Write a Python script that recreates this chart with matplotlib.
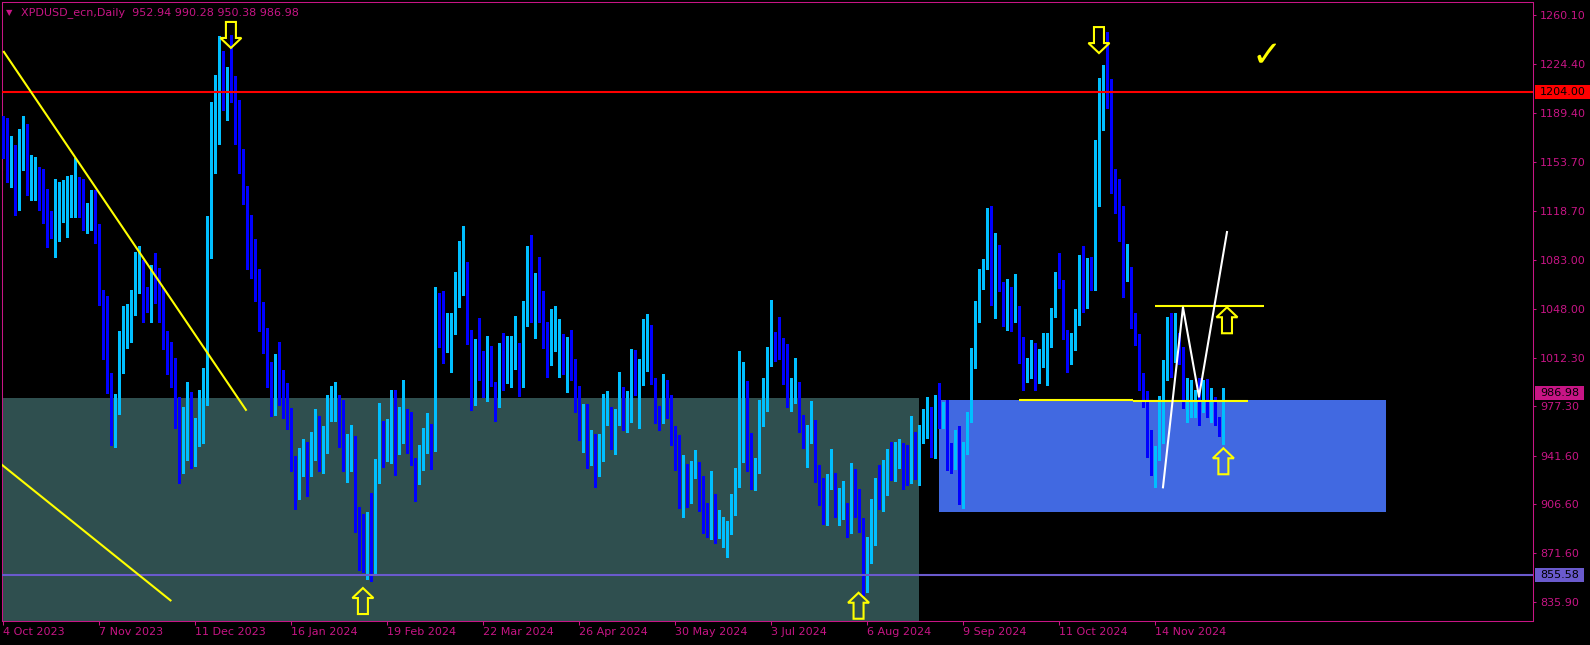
import matplotlib
matplotlib.use("Agg")
import matplotlib.pyplot as plt
import matplotlib.transforms as mtransforms
from matplotlib.patches import Rectangle, Polygon
import numpy as np

# XPDUSD daily candles, 4 Oct 2023 .. 6 Dec 2024
opens = [
    1172.1, 1163.2, 1145.1, 1147.3, 1131.6, 1159.5, 1167.2, 1133.1, 1142.5, 1139.1,
    1129.5, 1128.3, 1111.2, 1096.3, 1097.0, 1115.5, 1111.9, 1122.7, 1116.5, 1118.4,
    1119.1, 1104.2, 1105.9, 1114.8, 1097.9, 1051.2, 1045.2, 989.6, 959.8, 973.5,
    1003.6, 1028.4, 1024.1, 1045.0, 1067.9, 1063.3, 1049.8, 1038.5, 1065.0, 1057.7,
    1048.8, 1021.7, 1002.9, 994.9, 964.6, 930.2, 939.1, 962.2, 939.4, 949.0,
    975.5, 980.2, 1103.5, 1167.1, 1167.1, 1219.5, 1196.4, 1211.1, 1193.3, 1169.7,
    1149.2, 1129.0, 1095.7, 1070.5, 1064.7, 1037.2, 1024.6, 990.7, 971.6, 994.6,
    982.8, 971.0, 967.6, 927.7, 910.4, 929.6, 941.9, 931.7, 940.1, 956.3,
    934.0, 948.5, 972.3, 968.4, 971.6, 956.3, 942.2, 938.2, 943.5, 888.9,
    890.7, 852.9, 889.4, 857.4, 926.4, 949.8, 944.8, 944.8, 963.2, 944.5,
    964.7, 973.4, 949.5, 937.9, 924.9, 941.5, 951.9, 957.4, 946.6, 1049.8,
    1035.4, 1018.1, 1020.9, 1029.6, 1049.1, 1065.0, 1080.1, 1031.8, 985.1, 1015.2,
    1005.3, 984.8, 1002.2, 993.8, 977.1, 1010.8, 1000.0, 1003.6, 1011.5, 1018.8,
    1005.8, 1035.4, 1083.7, 1046.2, 1044.0, 1047.6, 1028.9, 1008.7, 1018.8, 1021.7,
    1025.3, 1008.0, 1008.0, 998.6, 983.9, 956.7, 974.7, 944.4, 943.0, 928.5,
    937.9, 964.9, 966.1, 947.5, 963.9, 972.6, 959.1, 966.3, 997.8, 982.9,
    999.5, 1016.1, 1024.6, 992.8, 965.4, 965.6, 988.4, 978.3, 953.8, 949.5,
    906.4, 925.7, 907.9, 925.9, 928.5, 908.3, 899.7, 886.9, 902.6, 885.5,
    888.8, 887.9, 886.2, 901.4, 919.4, 938.6, 971.1, 945.1, 925.9, 929.5,
    963.4, 974.3, 1008.2, 1023.1, 1021.7, 1018.8, 1008.7, 980.0, 988.0, 992.1,
    966.8, 946.1, 950.9, 952.4, 926.1, 908.1, 901.1, 918.7, 926.4, 895.4,
    896.8, 902.6, 886.2, 921.3, 903.3, 881.6, 849.4, 866.5, 880.9, 922.0,
    903.3, 917.3, 937.2, 930.7, 937.2, 949.3, 931.5, 924.2, 943.0, 920.6,
    951.6, 954.5, 967.5, 940.1, 976.9, 964.6, 976.2, 940.8, 932.2, 937.2,
    904.0, 943.0, 967.5, 1013.0, 1044.8, 1065.0, 1076.5, 1116.2, 1050.6, 1082.3,
    1057.0, 1038.3, 1060.6, 1040.4, 1046.9, 1012.0, 995.9, 1000.0, 1015.6, 997.1,
    1007.2, 1018.0, 1021.2, 1042.1, 1065.7, 1060.4, 1026.5, 1008.4, 1024.8, 1036.4,
    1080.6, 1048.9, 1076.8, 1063.8, 1154.7, 1183.6, 1212.9, 1199.7, 1145.1, 1113.8,
    1099.4, 1075.3, 1073.4, 1031.3, 1021.7, 980.8, 978.4, 943.5, 932.7, 938.6,
    951.2, 997.1, 1031.3, 1015.6, 1019.0, 1008.4, 974.7, 973.5, 972.3, 976.4,
    977.1, 978.3, 967.5, 976.0, 964.6, 952.94,
]
highs = [
    1187.0, 1185.3, 1172.5, 1166.0, 1177.3, 1187.0, 1181.2, 1158.8, 1157.1, 1149.9,
    1148.5, 1134.0, 1118.4, 1141.4, 1139.6, 1140.8, 1143.7, 1144.4, 1156.4, 1142.7,
    1141.4, 1123.9, 1133.6, 1133.6, 1109.0, 1061.4, 1057.0, 1001.2, 986.3, 1032.0,
    1049.8, 1051.2, 1061.4, 1088.5, 1093.1, 1083.0, 1063.8, 1079.4, 1087.8, 1077.0,
    1062.6, 1032.0, 1024.1, 1012.5, 984.4, 977.1, 995.2, 987.9, 969.2, 989.1,
    1004.8, 1114.6, 1197.0, 1216.4, 1244.5, 1234.0, 1222.7, 1245.8, 1216.1, 1198.5,
    1163.1, 1136.1, 1115.4, 1098.0, 1076.5, 1052.4, 1034.0, 1009.6, 1014.9, 1024.0,
    1003.6, 993.9, 976.3, 941.4, 947.2, 953.7, 951.4, 959.0, 975.5, 970.3,
    962.9, 985.5, 991.8, 994.6, 985.2, 982.1, 957.1, 963.7, 956.3, 904.6,
    899.9, 901.2, 915.1, 939.3, 980.0, 966.8, 968.1, 989.1, 989.1, 976.8,
    996.5, 975.5, 973.5, 939.9, 949.5, 961.5, 972.3, 964.6, 1063.3, 1059.0,
    1060.6, 1044.5, 1044.5, 1074.4, 1096.7, 1107.6, 1081.3, 1032.5, 1025.8, 1041.2,
    1017.3, 1028.2, 1020.9, 995.2, 1022.9, 1030.1, 1028.2, 1028.2, 1042.6, 1022.9,
    1053.4, 1093.4, 1101.1, 1073.6, 1085.2, 1060.6, 1038.0, 1047.6, 1049.8, 1040.4,
    1029.6, 1027.4, 1032.5, 1011.5, 992.1, 979.1, 979.1, 960.3, 957.4, 957.4,
    986.3, 988.5, 976.9, 975.5, 1002.2, 991.3, 988.4, 1018.8, 1018.0, 1011.5,
    1040.4, 1044.0, 1036.1, 997.8, 977.6, 1000.7, 996.4, 985.6, 963.4, 956.7,
    942.2, 935.8, 938.0, 945.8, 937.2, 927.1, 907.6, 930.7, 914.1, 902.6,
    897.5, 894.6, 914.1, 932.9, 1017.3, 1009.4, 995.7, 958.1, 940.1, 982.0,
    997.8, 1020.2, 1054.1, 1031.0, 1041.9, 1026.7, 1022.4, 997.8, 1012.3, 994.9,
    971.1, 963.9, 981.2, 967.5, 935.0, 925.4, 928.6, 946.6, 929.0, 918.5,
    923.5, 907.6, 936.5, 932.2, 917.7, 896.8, 883.1, 910.5, 925.9, 935.0,
    938.6, 946.6, 951.9, 951.9, 954.0, 951.2, 949.5, 970.4, 958.9, 963.9,
    975.5, 984.1, 976.9, 985.6, 994.2, 980.5, 982.0, 950.9, 960.3, 963.2,
    951.6, 973.3, 1019.5, 1053.4, 1076.5, 1083.7, 1120.6, 1122.0, 1102.5, 1093.8,
    1067.1, 1069.3, 1063.5, 1072.9, 1049.8, 1027.7, 1012.0, 1025.3, 1022.9, 1018.8,
    1030.1, 1030.6, 1048.1, 1074.6, 1088.3, 1068.6, 1032.5, 1030.1, 1047.4, 1086.6,
    1093.1, 1084.7, 1085.4, 1169.7, 1214.2, 1223.8, 1247.8, 1213.4, 1148.5, 1141.3,
    1122.0, 1094.6, 1077.7, 1044.5, 1029.6, 1001.2, 988.5, 960.3, 948.8, 984.9,
    1010.9, 1042.1, 1044.5, 1044.5, 1030.0, 1020.5, 997.6, 996.4, 989.2, 997.6,
    996.4, 997.1, 990.4, 984.4, 969.9, 990.28,
]
lows = [
    1156.4, 1139.6, 1136.0, 1115.5, 1119.1, 1148.0, 1130.0, 1126.3, 1126.3, 1119.1,
    1109.5, 1092.2, 1098.7, 1085.4, 1096.7, 1110.7, 1099.9, 1113.8, 1114.3, 1114.3,
    1104.7, 1102.7, 1104.7, 1095.1, 1050.5, 1011.3, 986.8, 949.5, 948.3, 971.6,
    1001.7, 1019.3, 1023.8, 1043.3, 1058.9, 1038.5, 1045.7, 1038.3, 1052.2, 1038.5,
    1018.5, 1000.7, 991.1, 961.5, 922.3, 929.5, 938.6, 933.1, 934.6, 948.7,
    950.7, 978.1, 1084.1, 1146.1, 1166.8, 1191.2, 1184.1, 1197.2, 1167.1, 1145.8,
    1123.8, 1076.3, 1070.0, 1053.7, 1031.9, 1016.2, 991.5, 970.3, 971.3, 978.1,
    968.9, 961.1, 930.9, 903.3, 910.2, 927.0, 912.5, 927.0, 938.8, 930.9,
    929.1, 944.0, 967.1, 966.6, 948.0, 930.4, 923.0, 930.9, 886.8, 859.5,
    857.9, 852.7, 851.6, 857.4, 921.7, 933.5, 938.0, 936.7, 927.7, 942.7,
    950.6, 944.0, 935.0, 909.3, 921.3, 931.4, 943.5, 932.2, 945.4, 1020.5,
    1008.4, 1016.9, 1002.2, 1029.6, 1049.1, 1057.8, 1022.4, 974.7, 978.3, 996.4,
    983.9, 981.5, 992.1, 967.0, 977.1, 989.2, 994.2, 991.6, 1004.3, 985.1,
    991.3, 1035.4, 1038.5, 1026.7, 1038.5, 1019.7, 998.6, 1007.2, 1017.3, 998.6,
    1001.0, 987.7, 996.4, 973.3, 953.1, 944.4, 933.1, 935.0, 919.2, 927.1,
    937.9, 963.9, 946.6, 943.2, 963.7, 960.5, 958.9, 966.1, 985.6, 962.0,
    993.0, 1003.1, 993.5, 965.6, 960.5, 965.4, 969.2, 949.7, 931.7, 904.2,
    897.7, 905.0, 907.6, 925.7, 902.1, 886.2, 883.3, 881.8, 878.9, 882.6,
    876.1, 868.9, 885.5, 899.2, 919.2, 937.4, 931.0, 918.0, 917.2, 929.3,
    963.2, 974.0, 1006.7, 1010.3, 1011.8, 993.7, 977.1, 974.3, 980.0, 958.9,
    947.5, 933.8, 950.7, 923.0, 905.9, 892.5, 891.7, 918.0, 897.8, 891.7,
    896.1, 883.3, 885.9, 897.8, 886.9, 841.2, 843.6, 864.1, 877.1, 903.5,
    901.8, 913.6, 924.2, 923.5, 932.9, 917.7, 920.6, 922.3, 924.9, 920.4,
    950.9, 954.3, 940.8, 939.9, 961.8, 961.8, 931.5, 929.3, 931.9, 906.9,
    903.8, 942.8, 966.1, 1005.1, 1038.3, 1062.1, 1076.3, 1050.6, 1041.2, 1060.6,
    1035.4, 1032.5, 1031.8, 1038.3, 1008.4, 989.2, 995.2, 997.6, 989.2, 994.0,
    1006.0, 992.8, 1020.5, 1041.9, 1062.6, 1025.8, 1002.4, 1008.0, 1018.0, 1036.1,
    1045.7, 1048.6, 1061.4, 1061.4, 1122.2, 1176.9, 1192.5, 1131.2, 1117.2, 1097.0,
    1056.1, 1068.1, 1034.0, 1021.7, 989.2, 977.2, 941.1, 927.8, 919.4, 938.4,
    950.7, 996.4, 998.8, 1009.6, 1008.0, 976.0, 966.3, 969.9, 969.9, 963.9,
    973.5, 969.9, 966.3, 963.9, 956.0, 950.38,
]
closes = [
    1163.6, 1144.4, 1157.1, 1134.3, 1164.8, 1166.8, 1133.6, 1145.6, 1143.0, 1129.5,
    1124.4, 1110.7, 1099.4, 1110.2, 1118.4, 1119.8, 1122.7, 1124.2, 1121.3, 1115.5,
    1105.4, 1109.5, 1119.1, 1102.7, 1050.5, 1044.5, 987.9, 959.1, 977.1, 1005.3,
    1022.9, 1032.0, 1051.2, 1068.6, 1069.3, 1050.5, 1046.9, 1072.2, 1063.1, 1048.6,
    1022.9, 1001.2, 1000.0, 969.2, 927.3, 939.1, 960.3, 933.8, 950.6, 972.3,
    983.2, 1104.1, 1169.7, 1180.2, 1221.6, 1195.9, 1208.2, 1199.9, 1168.9, 1146.1,
    1128.5, 1076.5, 1073.1, 1060.8, 1033.8, 1025.4, 991.8, 972.9, 996.5, 984.1,
    969.7, 968.4, 931.4, 910.4, 941.4, 947.2, 931.7, 942.7, 957.1, 934.0,
    956.3, 976.0, 975.5, 973.7, 957.6, 942.2, 949.3, 944.0, 887.6, 886.8,
    858.7, 887.6, 864.0, 929.6, 951.1, 948.5, 954.5, 961.8, 946.6, 961.8,
    971.0, 953.2, 935.8, 928.5, 941.5, 952.4, 960.8, 945.9, 1043.3, 1038.5,
    1019.7, 1028.9, 1033.2, 1056.3, 1066.4, 1078.7, 1030.6, 993.8, 1019.5, 1008.7,
    986.3, 1005.8, 993.8, 983.9, 999.3, 1005.3, 1002.9, 1016.6, 1022.4, 1001.0,
    1043.3, 1092.4, 1046.9, 1048.4, 1041.4, 1034.7, 1013.0, 1025.3, 1023.1, 1028.9,
    1008.7, 1016.6, 998.6, 985.6, 954.5, 974.7, 953.1, 950.2, 936.5, 943.0,
    974.0, 971.1, 949.5, 968.2, 975.5, 962.0, 976.9, 1005.8, 987.0, 1005.1,
    1022.4, 1023.1, 993.7, 969.2, 962.5, 982.0, 980.7, 956.2, 947.5, 913.6,
    924.9, 912.9, 929.3, 930.0, 910.7, 905.0, 888.4, 902.6, 886.9, 886.9,
    891.7, 888.4, 904.0, 924.9, 940.1, 974.0, 943.9, 931.0, 930.7, 968.9,
    979.8, 1010.8, 1026.0, 1011.8, 1014.0, 1009.6, 982.2, 989.9, 993.5, 959.1,
    948.3, 958.1, 953.1, 928.1, 907.1, 902.1, 923.5, 926.4, 899.9, 900.4,
    903.3, 890.5, 925.7, 904.2, 893.2, 851.6, 870.1, 883.1, 925.2, 904.9,
    918.5, 939.4, 930.7, 939.4, 948.0, 930.7, 927.1, 950.9, 925.7, 958.9,
    957.4, 972.6, 941.5, 976.2, 966.1, 979.8, 945.9, 935.0, 939.4, 914.1,
    948.8, 971.9, 1015.2, 1041.2, 1065.0, 1079.4, 1114.8, 1054.9, 1081.6, 1061.4,
    1041.2, 1061.4, 1042.6, 1047.6, 1008.7, 1000.0, 1007.2, 1018.0, 1004.1, 1004.8,
    1024.3, 1022.4, 1037.3, 1065.7, 1064.3, 1028.9, 1010.1, 1025.3, 1040.4, 1079.2,
    1054.6, 1077.7, 1063.1, 1158.1, 1191.3, 1214.2, 1208.6, 1146.8, 1117.9, 1097.5,
    1076.8, 1076.5, 1034.2, 1022.9, 989.7, 979.6, 945.4, 933.9, 938.6, 949.5,
    1005.5, 1035.4, 1024.1, 1025.7, 1011.0, 976.0, 978.3, 976.4, 975.5, 969.2,
    980.7, 971.1, 974.7, 965.1, 956.7, 986.98,
]

date_labels = ["4 Oct 2023", "7 Nov 2023", "11 Dec 2023", "16 Jan 2024", "19 Feb 2024",
               "22 Mar 2024", "26 Apr 2024", "30 May 2024", "3 Jul 2024", "6 Aug 2024",
               "9 Sep 2024", "11 Oct 2024", "14 Nov 2024"]
price_ticks = [1260.10, 1224.40, 1189.40, 1153.70, 1118.70, 1083.00, 1048.00,
               1012.30, 977.30, 941.60, 906.60, 871.60, 835.90]

level_red = 1204.00
level_low = 855.58

# drawn objects (bar index, price)
zone_grey = (-2, 228.9, 983.6, 800.0)
zone_blue = (233.9, 345.7, 981.9, 901.1)
trend_a = ([0, 60.8], [1233.9, 974.2])
trend_b = ([-0.5, 42.0], [935.5, 836.8])
neck_1 = ([253.9, 282.4], [982.2, 982.2])
neck_2 = ([282.4, 311.2], [981.4, 981.4])
top_line = ([287.9, 315.2], [1050.0, 1050.0])
path_x = [289.9, 294.9, 298.9, 305.9]
path_y = [918.9, 1048.9, 984.3, 1103.2]
arrows_down = [(56.9, 1236.1), (273.9, 1232.4)]
arrows_up = [(89.9, 846.2), (213.8, 842.8), (305.9, 1048.9), (305.0, 947.1)]

BULL = "#00BFFF"
BEAR = "#0000FF"
TXT = "#C71585"
YEL = "#FFFF00"

W, H = 1590, 645
fig = plt.figure(figsize=(W / 100, H / 100), dpi=100, facecolor="black")
ax = fig.add_axes([2 / W, 24 / H, 1531 / W, 619 / H])
ax.set_facecolor("black")

o = np.array(opens)
hi = np.array(highs)
lo = np.array(lows)
c = np.array(closes)
x = np.arange(len(c))
cols = np.where(c >= o, BULL, BEAR)

# zones behind candles
for (x0, x1, top, bot), col in ((zone_grey, "#2F4F4F"), (zone_blue, "#4169E1")):
    ax.add_patch(Rectangle((x0, bot), x1 - x0, top - bot, fc=col, ec="none", zorder=1))

ax.vlines(x, lo, hi, colors=cols, linewidth=0.75, antialiased=False, zorder=3)
ax.bar(x, np.maximum(np.abs(c - o), 0.7), bottom=np.minimum(o, c), width=0.75,
       color=cols, linewidth=0, antialiased=False, zorder=4)

ax.axhline(level_red, color="#FF0000", lw=1.5, zorder=5)
ax.axhline(level_low, color="#6A5ACD", lw=1.5, zorder=5)

for xs, ys in (trend_a, trend_b, neck_1, neck_2, top_line):
    ax.plot(xs, ys, color=YEL, lw=1.5, zorder=6, solid_capstyle="butt")
ax.plot(path_x, path_y, color="white", lw=1.5, zorder=6)

# hollow arrows, outline given in pixels around the tip
shape = [(0, 0), (-10.5, 10), (-5, 10), (-5, 26), (5, 26), (5, 10), (10.5, 10)]
for pts, sgn in ((arrows_down, 1), (arrows_up, -1)):
    for bx, py in pts:
        tr = fig.dpi_scale_trans + mtransforms.ScaledTranslation(bx, py, ax.transData)
        ax.add_patch(Polygon([(a / 100, sgn * b / 100) for a, b in shape], closed=True,
                             fill=False, ec=YEL, lw=1.5, transform=tr, zorder=7))

ax.text(315.9, 1230.3, "\u2713", color=YEL, fontsize=26, ha="center", va="center",
        zorder=8)

ax.set_xlim(-0.325, 382.4)
ax.set_ylim(822.4, 1269.27)

ax.set_xticks(x[::24][:len(date_labels)])
ax.set_xticklabels(date_labels, ha="left")
ax.yaxis.tick_right()
ax.set_yticks(price_ticks)
ax.set_yticklabels([f"{v:.2f}" for v in price_ticks])
ax.tick_params(axis="x", colors=TXT, labelsize=8, length=3, width=0.75, pad=1.5)
ax.tick_params(axis="y", colors=TXT, labelsize=8, length=2.2, width=0.75, pad=3)
for sp in ax.spines.values():
    sp.set_color(TXT)
    sp.set_linewidth(0.75)

# price tags on the scale
blend = mtransforms.blended_transform_factory(fig.transFigure, ax.transData)
for val, fc, x_end in ((level_red, "#FF0000", W), (closes[-1], TXT, 1584),
                       (level_low, "#6A5ACD", 1584)):
    ax.add_patch(Rectangle((1535 / W, val - 5.0), (x_end - 1535) / W, 10.0, fc=fc, ec="none",
                           transform=blend, clip_on=False, zorder=10))
    ax.text(1540 / W, val, f"{val:.2f}", color="black", fontsize=8, va="center", ha="left",
            transform=blend, clip_on=False, zorder=11)

fig.text(6 / W, 1 - 12.5 / H, "\u25bc", color=TXT, fontsize=6, va="center", ha="left")
fig.text(21 / W, 1 - 12.7 / H,
         f"XPDUSD_ecn,Daily  {opens[-1]:.2f} {highs[-1]:.2f} {lows[-1]:.2f} {closes[-1]:.2f}",
         color=TXT, fontsize=8, va="center", ha="left")

fig.savefig("out.png", dpi=100, facecolor="black")
